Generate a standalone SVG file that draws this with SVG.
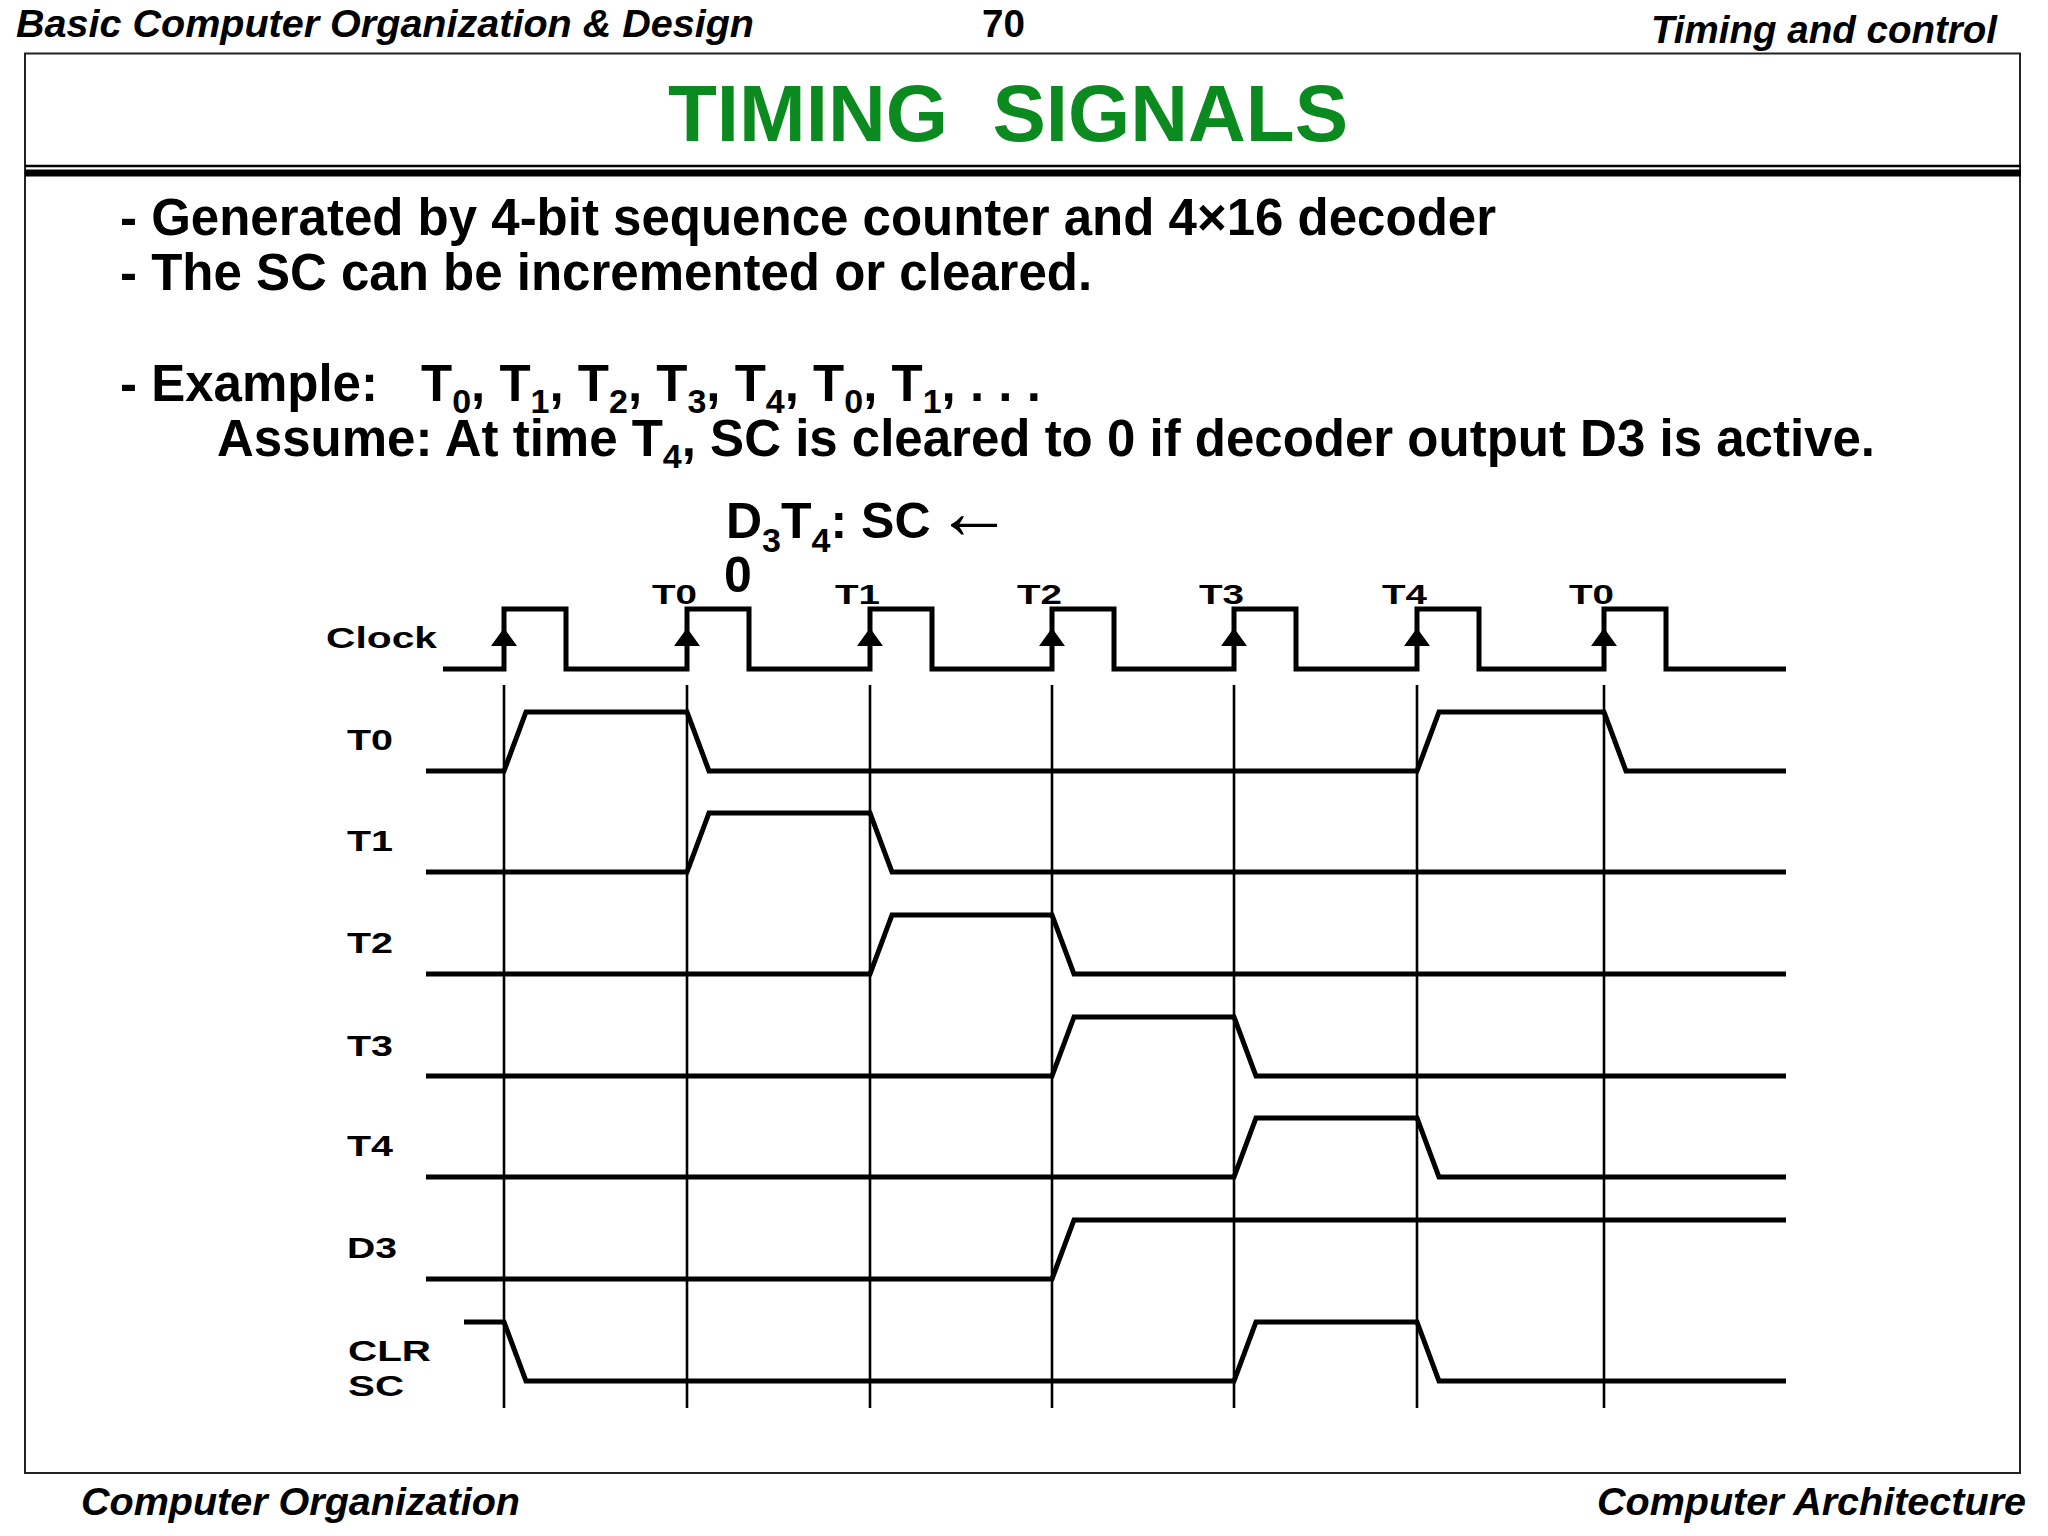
<svg xmlns="http://www.w3.org/2000/svg" width="2048" height="1536" viewBox="0 0 2048 1536">
<style>
  text { font-family: "Liberation Sans", Arial, sans-serif; font-weight: bold; fill: #000; }
  .hdr { font-size: 38px; font-style: italic; }
  .title { font-size: 80px; fill: #0b8a1f; }
  .body { font-size: 51px; }
  .sub { font-size: 34px; }
  .lbl { font-size: 29px; }
  .tl { font-size: 28px; }
  .sig { fill: none; stroke: #000; stroke-width: 5; stroke-linejoin: miter; }
  .guide { stroke: #000; stroke-width: 2.6; }
  .arrow { fill: #000; }
</style>
<rect width="2048" height="1536" fill="#fff"/>

<g id="header">
  <text class="hdr" x="16" y="37" textLength="738" lengthAdjust="spacingAndGlyphs">Basic Computer Organization &amp; Design</text>
  <text x="982" y="37" style="font-size:38px" textLength="43" lengthAdjust="spacingAndGlyphs">70</text>
  <text class="hdr" x="1651" y="43" textLength="346" lengthAdjust="spacingAndGlyphs">Timing and control</text>
</g>

<g id="frame">
  <rect x="25" y="53.5" width="1995" height="1419.5" fill="none" stroke="#222" stroke-width="2"/>
  <line x1="25" y1="166" x2="2021" y2="166" stroke="#000" stroke-width="2.5"/>
  <line x1="25" y1="173" x2="2021" y2="173" stroke="#000" stroke-width="7"/>
</g>

<g id="title">
  <text class="title" x="1008" y="141" text-anchor="middle" xml:space="preserve">TIMING  SIGNALS</text>
</g>

<g id="bullets">
  <text class="body" x="120" y="235">- Generated by 4-bit sequence counter and 4×16 decoder</text>
  <text class="body" x="120" y="290">- The SC can be incremented or cleared.</text>
  <text class="body" x="120" y="401">- Example:<tspan x="421">T</tspan><tspan class="sub" dy="12">0</tspan><tspan dy="-12">, T</tspan><tspan class="sub" dy="12">1</tspan><tspan dy="-12">, T</tspan><tspan class="sub" dy="12">2</tspan><tspan dy="-12">, T</tspan><tspan class="sub" dy="12">3</tspan><tspan dy="-12">, T</tspan><tspan class="sub" dy="12">4</tspan><tspan dy="-12">, T</tspan><tspan class="sub" dy="12">0</tspan><tspan dy="-12">, T</tspan><tspan class="sub" dy="12">1</tspan><tspan dy="-12">, . . .</tspan></text>
  <text class="body" x="217" y="456">Assume: At time T<tspan class="sub" dy="12">4</tspan><tspan dy="-12">, SC is cleared to 0 if decoder output D3 is active.</tspan></text>
</g>

<g id="annotation">
  <text class="body" style="font-size:50px" x="726" y="538">D<tspan class="sub" dy="14">3</tspan><tspan dy="-14">T</tspan><tspan class="sub" dy="14">4</tspan><tspan dy="-14">: SC </tspan><tspan x="935" style="font-size:78px;font-weight:normal">←</tspan></text>
  <text class="body" style="font-size:50px" x="724" y="592">0</text>
</g>

<g id="guides">
  <line class="guide" x1="504" y1="685" x2="504" y2="1408"/>
  <line class="guide" x1="687" y1="685" x2="687" y2="1408"/>
  <line class="guide" x1="870" y1="685" x2="870" y2="1408"/>
  <line class="guide" x1="1052" y1="685" x2="1052" y2="1408"/>
  <line class="guide" x1="1234" y1="685" x2="1234" y2="1408"/>
  <line class="guide" x1="1417" y1="685" x2="1417" y2="1408"/>
  <line class="guide" x1="1604" y1="685" x2="1604" y2="1408"/>
</g>

<g id="clock">
  <text class="lbl" x="326" y="648" textLength="111" lengthAdjust="spacingAndGlyphs">Clock</text>
  <text class="tl" x="652" y="604" textLength="45" lengthAdjust="spacingAndGlyphs">T0</text>
  <text class="tl" x="835" y="604" textLength="45" lengthAdjust="spacingAndGlyphs">T1</text>
  <text class="tl" x="1017" y="604" textLength="45" lengthAdjust="spacingAndGlyphs">T2</text>
  <text class="tl" x="1199" y="604" textLength="45" lengthAdjust="spacingAndGlyphs">T3</text>
  <text class="tl" x="1382" y="604" textLength="45" lengthAdjust="spacingAndGlyphs">T4</text>
  <text class="tl" x="1569" y="604" textLength="45" lengthAdjust="spacingAndGlyphs">T0</text>
  <path class="sig" d="M443,669 H504 V609 H566 V669 H687 V609 H749 V669 H870 V609 H932 V669 H1052 V609 H1114 V669 H1234 V609 H1296 V669 H1417 V609 H1479 V669 H1604 V609 H1666 V669 H1786"/>
  <polygon class="arrow" points="491,646 504,628 517,646"/>
  <polygon class="arrow" points="674,646 687,628 700,646"/>
  <polygon class="arrow" points="857,646 870,628 883,646"/>
  <polygon class="arrow" points="1039,646 1052,628 1065,646"/>
  <polygon class="arrow" points="1221,646 1234,628 1247,646"/>
  <polygon class="arrow" points="1404,646 1417,628 1430,646"/>
  <polygon class="arrow" points="1591,646 1604,628 1617,646"/>
</g>

<g id="signal-T0">
  <text class="lbl" x="347" y="750" textLength="46" lengthAdjust="spacingAndGlyphs">T0</text>
  <path class="sig" d="M426,771 H504 L526,712 H687 L709,771 H1417 L1439,712 H1604 L1626,771 H1786"/>
</g>
<g id="signal-T1">
  <text class="lbl" x="347" y="851" textLength="46" lengthAdjust="spacingAndGlyphs">T1</text>
  <path class="sig" d="M426,872 H687 L709,813 H870 L892,872 H1786"/>
</g>
<g id="signal-T2">
  <text class="lbl" x="347" y="953" textLength="46" lengthAdjust="spacingAndGlyphs">T2</text>
  <path class="sig" d="M426,974 H870 L892,915 H1052 L1074,974 H1786"/>
</g>
<g id="signal-T3">
  <text class="lbl" x="347" y="1056" textLength="46" lengthAdjust="spacingAndGlyphs">T3</text>
  <path class="sig" d="M426,1076 H1052 L1074,1017 H1234 L1256,1076 H1786"/>
</g>
<g id="signal-T4">
  <text class="lbl" x="347" y="1156" textLength="46" lengthAdjust="spacingAndGlyphs">T4</text>
  <path class="sig" d="M426,1177 H1234 L1256,1118 H1417 L1439,1177 H1786"/>
</g>
<g id="signal-D3">
  <text class="lbl" x="347" y="1258" textLength="50" lengthAdjust="spacingAndGlyphs">D3</text>
  <path class="sig" d="M426,1279 H1052 L1074,1220 H1786"/>
</g>
<g id="signal-CLRSC">
  <text class="lbl" x="348" y="1361" textLength="83" lengthAdjust="spacingAndGlyphs">CLR</text>
  <text class="lbl" x="348" y="1396" textLength="56" lengthAdjust="spacingAndGlyphs">SC</text>
  <path class="sig" d="M464,1322 H504 L526,1381 H1234 L1256,1322 H1417 L1439,1381 H1786"/>
</g>

<g id="footer">
  <text class="hdr" x="81" y="1515" textLength="439" lengthAdjust="spacingAndGlyphs">Computer Organization</text>
  <text class="hdr" x="1597" y="1515" textLength="429" lengthAdjust="spacingAndGlyphs">Computer Architecture</text>
</g>
</svg>
